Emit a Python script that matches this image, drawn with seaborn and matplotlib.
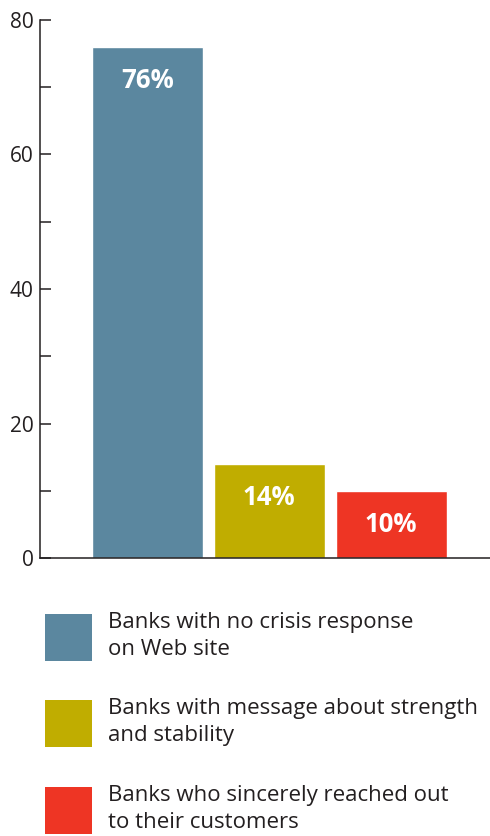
import matplotlib
matplotlib.use("Agg")
import matplotlib.pyplot as plt
from matplotlib.patches import Patch
from matplotlib.ticker import MultipleLocator
import seaborn as sns

categories = [
    "Banks with no crisis response\non Web site",
    "Banks with message about strength\nand stability",
    "Banks who sincerely reached out\nto their customers",
]
values = [76, 14, 10]
bar_labels = ["76%", "14%", "10%"]
colors = ["#5B879F", "#C0AD00", "#EE3524"]

sns.set_style("white")
plt.rcParams["font.family"] = ["Open Sans", "DejaVu Sans"]
ink = "#231F20"

fig = plt.figure(figsize=(4.90, 8.36), dpi=100)
ax = fig.add_axes([40 / 490, 1 - 558 / 836, 1 - 40 / 490, (558 - 20) / 836])

sns.barplot(x=categories, y=values, hue=categories, palette=colors,
            width=0.91, saturation=1, legend=False, ax=ax)

for i, (v, lab) in enumerate(zip(values, bar_labels)):
    ax.annotate(lab, (i, v), xytext=(0, -24.5), textcoords="offset points",
                ha="center", va="center", color="white", fontsize=18.5,
                fontweight="bold")

ax.set_xlim(-0.88, 2.81)
ax.set_ylim(0, 80)
ax.yaxis.set_major_locator(MultipleLocator(20))
ax.yaxis.set_minor_locator(MultipleLocator(10))
ax.tick_params(axis="y", which="both", direction="in", length=8, width=1.1,
               color=ink, pad=4.5, labelsize=15, labelcolor=ink, left=True)
ax.set_xticks([])
ax.set_xlabel("")
ax.set_ylabel("")
sns.despine(ax=ax)
for side in ["left", "bottom"]:
    ax.spines[side].set_color(ink)
    ax.spines[side].set_linewidth(1.1)

# legend: square swatches next to two-line labels
handles = [Patch(facecolor=c, edgecolor="none") for c in colors]
leg = fig.legend(handles, categories, loc="upper left",
                 bbox_to_anchor=(29 / 490, 1 - 596 / 836), frameon=False,
                 fontsize=16, handlelength=2.12, handleheight=2.88,
                 handletextpad=0.75, labelspacing=1.68, labelcolor=ink,
                 borderaxespad=0.3)
for t in leg.get_texts():
    t.set_linespacing(1.4)

fig.savefig("out.png", dpi=100)
